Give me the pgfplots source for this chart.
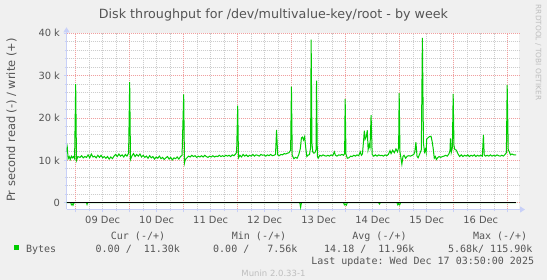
\documentclass[border=0pt]{standalone}
\usepackage{pgfplots}
\pgfplotsset{compat=1.18}
\usepackage{pgfplotstable}
\usepackage{fontspec}
\setmainfont{DejaVu Sans}
\setmonofont{DejaVu Sans Mono}
\usetikzlibrary{arrows.meta}
\definecolor{bgc}{HTML}{F0F0F0}
\definecolor{axisc}{RGB}{200,208,248}
\definecolor{mgrid}{RGB}{240,160,160}
\definecolor{ngrid}{RGB}{205,205,205}
\definecolor{plotg}{HTML}{00CC00}
\definecolor{txtc}{HTML}{555555}
\definecolor{wmark}{RGB}{190,190,190}

\pgfplotstableread{
t v
-0.17 12.0
-0.155 13.0
-0.14 10.4
-0.12 10.9
-0.10 10.2
-0.08 11.0
-0.06 10.6
-0.04 10.9
-0.02 10.4
0.00 28.0
0.015 10.0
0.04 10.9
0.08 10.7
0.11 11.1
0.14 10.6
0.17 10.9
0.20 10.7
0.23 11.3
0.26 10.6
0.29 11.5
0.32 10.8
0.35 11.0
0.38 10.6
0.41 11.2
0.44 10.7
0.47 11.2
0.50 10.6
0.53 10.9
0.56 10.5
0.59 10.9
0.62 10.3
0.65 10.8
0.68 10.4
0.71 11.0
0.74 11.4
0.77 10.9
0.80 11.5
0.83 11.0
0.86 11.3
0.89 10.8
0.92 11.4
0.95 11.0
0.98 11.7
1.00 28.5
1.015 10.2
1.04 11.0
1.07 11.6
1.10 10.9
1.13 11.4
1.16 11.0
1.19 11.5
1.22 10.8
1.25 11.2
1.28 10.7
1.31 11.0
1.34 10.5
1.37 11.1
1.40 10.6
1.43 10.9
1.46 10.3
1.49 10.8
1.52 10.5
1.55 11.0
1.58 10.4
1.61 10.7
1.64 10.2
1.67 10.6
1.70 10.9
1.73 10.3
1.76 10.7
1.79 10.1
1.82 10.6
1.85 10.4
1.88 10.8
1.91 10.3
1.94 10.9
1.97 11.2
2.00 25.6
2.015 9.4
2.03 10.2
2.06 10.6
2.09 11.0
2.12 10.8
2.15 11.2
2.18 10.9
2.21 11.1
2.24 10.7
2.27 11.0
2.30 10.8
2.33 11.1
2.36 10.8
2.39 11.2
2.42 10.9
2.45 10.7
2.48 11.0
2.51 10.8
2.54 11.1
2.57 10.8
2.60 11.0
2.63 10.9
2.66 11.2
2.69 10.9
2.72 11.1
2.75 10.9
2.78 11.2
2.81 11.0
2.84 11.2
2.87 10.9
2.90 11.3
2.93 11.1
2.96 11.5
2.98 11.9
3.00 22.9
3.015 10.6
3.04 11.2
3.07 10.8
3.10 11.4
3.13 11.0
3.16 11.3
3.19 10.9
3.22 11.2
3.25 11.0
3.28 11.4
3.31 11.0
3.34 11.3
3.37 11.2
3.40 11.0
3.43 11.4
3.46 11.2
3.49 11.3
3.52 11.0
3.55 11.3
3.58 11.1
3.61 11.4
3.64 11.1
3.67 11.2
3.70 11.4
3.72 17.2
3.74 11.3
3.77 11.1
3.80 11.4
3.83 11.3
3.86 11.6
3.89 11.5
3.92 11.7
3.95 11.8
3.98 12.4
3.995 27.4
4.01 11.2
4.04 10.4
4.07 10.7
4.10 10.5
4.13 11.3
4.16 12.8
4.18 15.3
4.20 15.5
4.22 14.8
4.24 15.6
4.26 13.0
4.28 10.9
4.30 11.2
4.33 11.4
4.35 13.0
4.36 38.5
4.375 14.0
4.39 12.0
4.41 11.7
4.43 11.8
4.45 12.5
4.46 28.8
4.475 11.0
4.49 10.5
4.52 11.2
4.55 11.0
4.58 11.3
4.61 11.1
4.64 11.0
4.67 11.2
4.70 11.0
4.73 11.3
4.76 11.1
4.79 12.0
4.81 11.2
4.84 11.0
4.87 11.3
4.90 11.2
4.93 11.4
4.96 11.2
4.98 11.6
4.99 24.5
5.005 11.5
5.03 10.5
5.06 10.6
5.09 11.0
5.12 10.9
5.15 11.2
5.18 11.0
5.21 11.3
5.24 11.1
5.27 12.0
5.29 11.2
5.31 11.5
5.33 14.5
5.345 17.0
5.36 15.0
5.38 15.5
5.40 17.1
5.415 12.5
5.435 13.7
5.45 13.0
5.47 20.7
5.49 11.4
5.52 11.0
5.55 11.3
5.58 11.0
5.61 11.3
5.64 11.1
5.67 11.2
5.70 11.0
5.73 11.3
5.76 11.1
5.79 11.4
5.82 12.3
5.84 11.6
5.87 12.4
5.90 11.8
5.93 12.7
5.96 12.0
5.98 13.0
5.99 25.9
6.005 12.0
6.04 9.1
6.06 10.9
6.08 11.2
6.11 10.5
6.14 11.0
6.17 11.1
6.20 11.0
6.23 11.2
6.26 11.4
6.28 12.0
6.30 14.3
6.32 11.0
6.34 10.6
6.37 11.5
6.40 12.5
6.42 38.9
6.44 14.0
6.46 12.0
6.475 12.6
6.49 11.8
6.50 15.0
6.52 15.3
6.55 15.6
6.58 15.7
6.60 14.5
6.62 12.8
6.64 10.5
6.66 10.9
6.68 10.2
6.70 10.6
6.73 10.9
6.76 10.7
6.79 10.9
6.82 11.0
6.85 11.2
6.88 11.0
6.91 11.5
6.93 12.2
6.94 15.2
6.955 11.9
6.975 13.0
6.99 25.7
7.005 13.5
7.02 12.6
7.05 12.4
7.08 11.5
7.11 10.9
7.14 11.3
7.17 10.9
7.20 11.2
7.23 11.0
7.26 11.3
7.29 10.9
7.32 11.2
7.35 11.0
7.38 11.3
7.41 10.9
7.44 11.2
7.47 11.0
7.50 11.2
7.53 11.0
7.55 16.0
7.565 11.3
7.59 11.0
7.62 11.2
7.65 11.0
7.68 11.3
7.71 11.0
7.74 11.2
7.77 11.0
7.80 11.3
7.83 11.1
7.86 11.0
7.89 11.2
7.92 11.0
7.95 11.4
7.975 11.8
7.99 27.8
8.01 12.5
8.03 12.0
8.05 11.3
8.08 11.5
8.11 11.3
8.155 11.3
}\writedata

\pgfplotstableread{
t v
-0.17 0
-0.09 0
-0.08 -0.5
-0.06 -0.3
-0.05 -0.6
-0.03 0
0.20 0
0.21 -0.4
0.22 0
4.15 0
4.165 -1.1
4.18 0
4.96 0
4.975 -0.5
4.99 -0.3
5.01 -0.6
5.03 0
5.61 0
5.625 -0.3
5.64 0
5.95 0
5.965 -0.5
5.98 -0.2
6.00 -0.5
6.015 0
8.155 0
}\readdata

\pgfplotstableread{
t v
-0.17 0
8.155 0
}\zerodata

\begin{document}
\begin{tikzpicture}
\fill[bgc] (0bp,0bp) rectangle (547bp,280bp);
\begin{axis}[
  at={(66.5bp,70.5bp)}, anchor=south west,
  scale only axis, width=452.5bp, height=176.2bp,
  xmin=-0.17, xmax=8.209, ymin=-1.6, ymax=40,
  axis x line=bottom, axis y line=left,
  axis line style={draw=axisc, line width=1bp},
  x axis line style={-{Triangle[length=5bp,width=6bp]}, shorten >=-6bp},
  y axis line style={-{Triangle[length=5bp,width=6bp]}, shorten >=-6bp},
  axis background/.style={fill=white},
  tick align=outside,
  major tick length=3bp, minor tick length=2bp,
  tick style={draw=axisc, line width=0.8bp},
  xtick={0.5,1.5,2.5,3.5,4.5,5.5,6.5,7.5},
  xticklabels={09 Dec,10 Dec,11 Dec,12 Dec,13 Dec,14 Dec,15 Dec,16 Dec},
  minor xtick={0,0.25,...,8},
  xmajorgrids=false, xminorgrids=true,
  extra x ticks={0,1,2,3,4,5,6,7,8},
  extra x tick labels={},
  extra x tick style={grid=major},
  ytick={0,10,20,30,40},
  yticklabels={0,10 k,20 k,30 k,40 k},
  minor ytick={2,4,6,8,12,14,16,18,22,24,26,28,32,34,36,38},
  ymajorgrids=true, yminorgrids=true,
  major grid style={draw=mgrid, line width=1bp, dash pattern=on 1bp off 1bp},
  minor grid style={draw=ngrid, line width=1bp, dash pattern=on 1bp off 1bp},
  tick label style={font=\fontsize{9.9bp}{11bp}\selectfont, text=txtc},
]
\addplot[draw=plotg, line width=1bp] table[x=t,y=v] {\readdata};
\addplot[draw=plotg, line width=1bp] table[x=t,y=v] {\writedata};
\addplot[draw=black, line width=1bp] table[x=t,y=v] {\zerodata};
\end{axis}
% title
\node[anchor=base, text=txtc, font=\fontsize{12.7bp}{14bp}\selectfont, inner sep=0pt]
  at (273.5bp,261.5bp) {Disk throughput for /dev/multivalue-key/root - by week};
% y label
\node[anchor=base, rotate=90, text=txtc, font=\fontsize{11.4bp}{13bp}\selectfont, inner sep=0pt]
  at (15bp,160bp) {Pr second read (-) / write (+)};
% watermark
\node[anchor=center, rotate=-90, text=wmark, font=\fontsize{7.4bp}{9bp}\selectfont, inner sep=0pt]
  at (538.3bp,227.5bp) {RRDTOOL / TOBI OETIKER};
% legend
\begin{scope}[every node/.style={anchor=base west, inner sep=0pt, text=txtc, font=\ttfamily\fontsize{10bp}{12bp}\selectfont}]
\node at (110.7bp,40.7bp) {Cur~(-/+)};
\node at (231.7bp,40.7bp) {Min~(-/+)};
\node at (352.2bp,40.7bp) {Avg~(-/+)};
\node at (472.8bp,40.7bp) {Max~(-/+)};
\node at (25.8bp,27.8bp) {Bytes};
\node at (95.5bp,27.8bp) {0.00~/~~11.30k};
\node at (213.0bp,27.8bp) {0.00~/~~~7.56k};
\node at (324.0bp,27.8bp) {14.18~/~~11.96k};
\node at (447.9bp,27.8bp) {5.68k/~115.90k};
\node at (311.1bp,15.2bp) {Last~update:~Wed~Dec~17~03:50:00~2025};
\end{scope}
\fill[plotg] (14bp,30.2bp) rectangle (19.2bp,35bp);
\node[anchor=base, inner sep=0pt, text=wmark, font=\fontsize{8.5bp}{10bp}\selectfont]
  at (273.5bp,3.4bp) {Munin 2.0.33-1};
\end{tikzpicture}
\end{document}
